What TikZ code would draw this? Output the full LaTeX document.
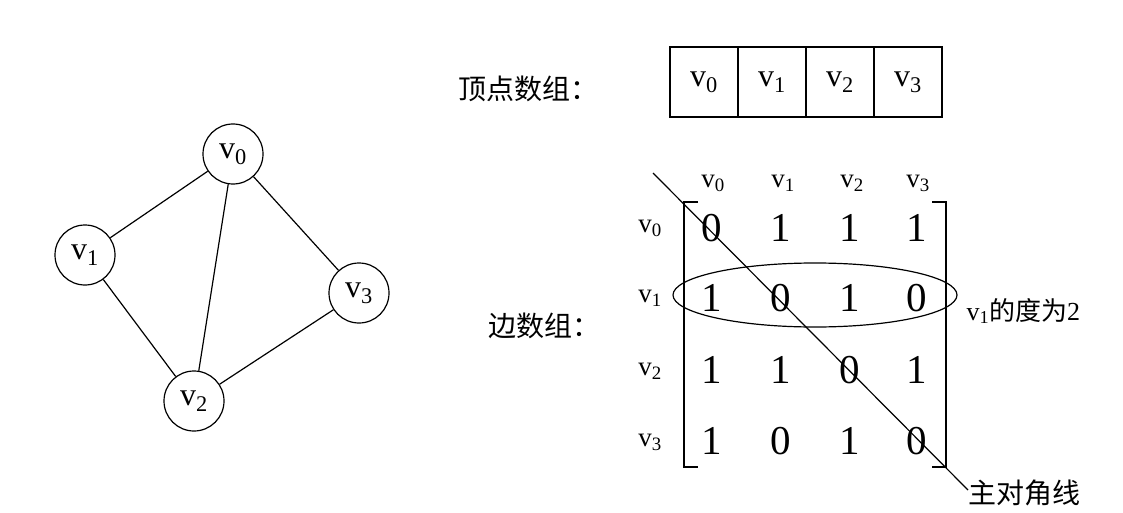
\documentclass[tikz,border=0pt]{standalone}
\usepackage{fontspec}
\setmainfont{Liberation Serif}
\newfontfamily\cjk{Noto Sans CJK SC}
\begin{document}
\begin{tikzpicture}[x=1pt,y=-1pt,
  line width=1.2pt,
  vtx/.style={circle,draw,minimum size=60pt,inner sep=0pt,font=\fontsize{32}{32}\selectfont},
  cell/.style={draw,minimum width=68pt,minimum height=70pt,inner sep=0pt,font=\fontsize{32}{32}\selectfont},
  entry/.style={inner sep=0pt,font=\fontsize{41}{41}\selectfont},
  lab/.style={inner sep=0pt,font=\fontsize{27}{27}\selectfont},
  cjklab/.style={inner sep=0pt,anchor=west,font=\cjk\fontsize{28}{28}\selectfont},
  brk/.style={line width=2pt}]
\useasboundingbox[fill=white] (0,0) rectangle (1123,513);
% graph
\node[vtx] (v0) at (233,154) {v\textsubscript{0}};
\node[vtx] (v1) at (85,255) {v\textsubscript{1}};
\node[vtx] (v2) at (194,401) {v\textsubscript{2}};
\node[vtx] (v3) at (359,293) {v\textsubscript{3}};
\draw (v0) -- (v1);
\draw (v0) -- (v2);
\draw (v0) -- (v3);
\draw (v1) -- (v2);
\draw (v2) -- (v3);
% vertex array
\node[cjklab] (vlab) at (458,89) {顶点数组：};
\node[cell] (c0) at (704,82) {v\textsubscript{0}};
\node[cell] (c1) at (772,82) {v\textsubscript{1}};
\node[cell] (c2) at (840,82) {v\textsubscript{2}};
\node[cell] (c3) at (908,82) {v\textsubscript{3}};
% edge array
\node[cjklab] (elab) at (488,326) {边数组：};
% column headers
\node[lab] (h0) at (713,183) {v\textsubscript{0}};
\node[lab] (h1) at (783,183) {v\textsubscript{1}};
\node[lab] (h2) at (852,183) {v\textsubscript{2}};
\node[lab] (h3) at (918,183) {v\textsubscript{3}};
% row headers
\node[lab] (r0) at (650,228) {v\textsubscript{0}};
\node[lab] (r1) at (650,298) {v\textsubscript{1}};
\node[lab] (r2) at (650,371) {v\textsubscript{2}};
\node[lab] (r3) at (650,442) {v\textsubscript{3}};
% entries
\node[entry] (m00) at (712,228) {0};
\node[entry] (m01) at (781,228) {1};
\node[entry] (m02) at (850,228) {1};
\node[entry] (m03) at (917,228) {1};
\node[entry] (m10) at (712,298) {1};
\node[entry] (m11) at (781,298) {0};
\node[entry] (m12) at (850,298) {1};
\node[entry] (m13) at (917,298) {0};
\node[entry] (m20) at (712,370) {1};
\node[entry] (m21) at (781,370) {1};
\node[entry] (m22) at (850,370) {0};
\node[entry] (m23) at (917,370) {1};
\node[entry] (m30) at (712,441) {1};
\node[entry] (m31) at (781,441) {0};
\node[entry] (m32) at (850,441) {1};
\node[entry] (m33) at (917,441) {0};
% brackets
\draw[brk] (698,202) -- (684,202) -- (684,467) -- (698,467);
\draw[brk] (932,202) -- (946,202) -- (946,467) -- (932,467);
% ellipse around row v1
\draw (815,295) ellipse [x radius=142, y radius=32];
% diagonal
\coordinate (dstart) at (653,173);
\coordinate (dend) at (968,490);
\draw (dstart) -- (dend);
\node[cjklab] (diag) at (968,493) {主对角线};
% degree label
\node[inner sep=0pt,anchor=west,font=\fontsize{26}{26}\selectfont] (deg) at (966,311) {v\textsubscript{1}{\cjk 的度为}2};
\end{tikzpicture}
\end{document}
